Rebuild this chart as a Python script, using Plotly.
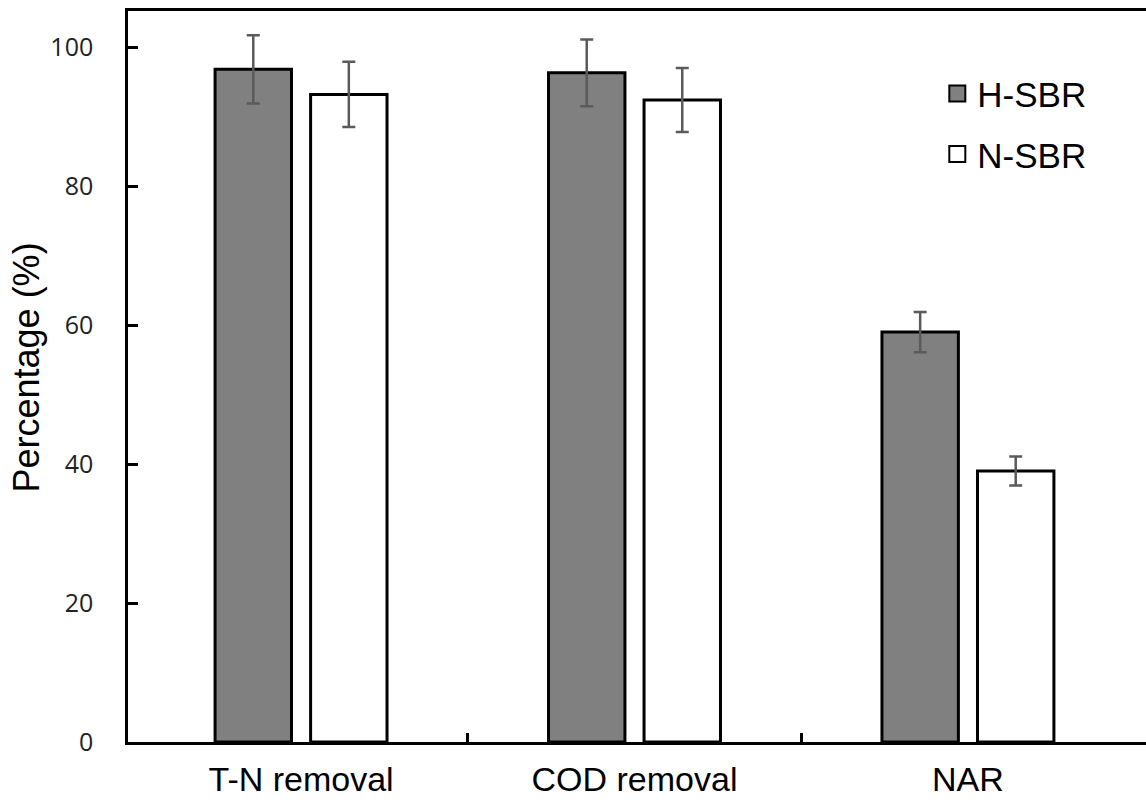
import plotly.graph_objects as go

categories = ["T-N removal", "COD removal", "NAR"]
h_sbr = [96.8, 96.3, 59.0]
h_sbr_err = [4.9, 4.8, 2.9]
n_sbr = [93.2, 92.4, 39.0]
n_sbr_err = [4.7, 4.6, 2.1]
y_ticks = [0, 20, 40, 60, 80, 100]

xpos = list(range(len(categories)))

fig = go.Figure()
fig.add_trace(go.Bar(
    x=xpos, y=h_sbr, name="H-SBR", showlegend=False,
    marker=dict(color="#808080", line=dict(color="black", width=3)),
    error_y=dict(type="data", array=h_sbr_err, color="#5a5a5a", thickness=2.5, width=6.5),
))
fig.add_trace(go.Bar(
    x=xpos, y=n_sbr, name="N-SBR", showlegend=False,
    marker=dict(color="white", line=dict(color="black", width=3)),
    error_y=dict(type="data", array=n_sbr_err, color="#5a5a5a", thickness=2.5, width=6.5),
))
# legend entries
fig.add_trace(go.Scatter(x=[None], y=[None], mode="markers", name="H-SBR", legendgroup="a",
                         marker=dict(symbol="square", size=16, color="#808080",
                                     line=dict(color="black", width=2))))
fig.add_trace(go.Scatter(x=[None], y=[None], mode="markers", name="N-SBR", legendgroup="b",
                         marker=dict(symbol="square", size=16, color="white",
                                     line=dict(color="black", width=2))))

fig.update_layout(
    width=1146, height=800,
    margin=dict(l=128, r=0, t=11, b=58),
    paper_bgcolor="white", plot_bgcolor="white",
    barmode="group", bargap=0.427, bargroupgap=0.2,
    font=dict(family="Liberation Sans, Arial, sans-serif", size=34, color="black"),
    legend=dict(x=0.795, y=0.927, xanchor="left", yanchor="top",
                bgcolor="rgba(0,0,0,0)", tracegroupgap=12,
                font=dict(size=35), itemwidth=30),
    xaxis=dict(
        range=[-0.519, 2.534], automargin=False,
        tickmode="array", tickvals=xpos, ticktext=categories, ticks="",
        showline=True, linecolor="black", linewidth=2.5, mirror=True,
        showgrid=False, zeroline=False,
        tickfont=dict(size=34, color="black"),
        minor=dict(tickvals=[0.5, 1.5], ticks="inside", ticklen=9, tickwidth=2.5,
                   tickcolor="black", showgrid=False),
        ticklabelstandoff=5,
    ),
    yaxis=dict(
        range=[0, 105.2], automargin=False,
        tickmode="array", tickvals=y_ticks,
        ticks="inside", ticklen=10, tickwidth=2.5, tickcolor="black",
        showline=True, linecolor="black", linewidth=2.5, mirror=False,
        showgrid=False, zeroline=False,
        tickfont=dict(family="Open Sans, sans-serif", size=25, color="#222222"),
        ticklabelstandoff=27,
    ),
    annotations=[dict(
        text="Percentage (%)", textangle=-90, showarrow=False,
        xref="paper", yref="paper", x=0, y=0.5, xanchor="center", yanchor="middle",
        xshift=-102, yshift=9, font=dict(size=36, color="black"),
    )],
)

fig.write_html("out.html")
